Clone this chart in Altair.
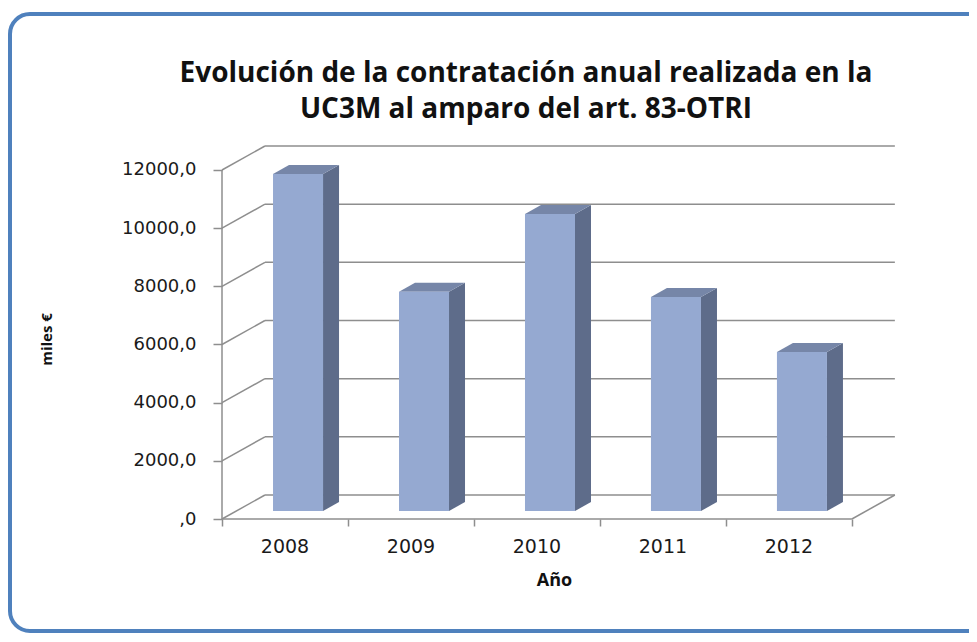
import altair as alt
import pandas as pd

# ---------------- data ----------------
years = ["2008", "2009", "2010", "2011", "2012"]
values = [11590, 7540, 10210, 7360, 5470]
y_ticks = [0, 2000, 4000, 6000, 8000, 10000, 12000]
title_lines = ["Evolución de la contratación anual realizada en la",
               "UC3M al amparo del art. 83-OTRI"]
y_title = "miles €"
x_title = "Año"

# ---------------- 3D projection / style constants ----------------
FL, FR = 0.405, 0.802      # front face left/right within a category (x units)
BASE = 275                 # bar base lift (y units) due to depth
SDX, SDY = 0.127, 309      # bar depth offset
DX, DY = 0.341, 825        # wall depth offset
N = len(years)
XMAX = 5.35
YMAX = 12825
W, H = 674, 373

FRONT = "#95A9D1"
TOP = "#7686A8"
SIDE = "#5E6C8A"
GRID = "#8E8E8E"

# ---------------- derived geometry tables ----------------
front_rows, side_rows, top_rows = [], [], []
for i, (yr, v) in enumerate(zip(years, values)):
    front_rows.append({"year": yr, "x": i + FL, "x2": i + FR, "y": BASE, "y2": v + BASE})
    side_rows.append({"year": yr, "x": i + FR, "ylo": BASE, "yhi": v + BASE})
    side_rows.append({"year": yr, "x": i + FR + SDX, "ylo": BASE + SDY, "yhi": v + BASE + SDY})
    top_rows.append({"year": yr, "y": v + BASE, "xl": i + FL, "xr": i + FR})
    top_rows.append({"year": yr, "y": v + BASE + SDY, "xl": i + FL + SDX, "xr": i + FR + SDX})

grid_rows = []
for t in y_ticks:
    grid_rows.append({"x": 0, "y": t, "x2": DX, "y2": t + DY})
    grid_rows.append({"x": DX, "y": t + DY, "x2": N + DX, "y2": t + DY})
grid_rows.append({"x": N, "y": 0, "x2": N + DX, "y2": DY})
grid_rows.append({"x": 0, "y": 0, "x2": N, "y2": 0})
grid_rows.append({"x": 0, "y": 0, "x2": 0, "y2": y_ticks[-1]})

label_rows = [{"year": yr, "x": i + 0.5, "y": 0} for i, yr in enumerate(years)]

front_df = pd.DataFrame(front_rows)
side_df = pd.DataFrame(side_rows)
top_df = pd.DataFrame(top_rows)
grid_df = pd.DataFrame(grid_rows)
label_df = pd.DataFrame(label_rows)

# ---------------- scales / axes ----------------
xscale = alt.Scale(domain=[0, XMAX], nice=False, zero=False)
yscale = alt.Scale(domain=[0, YMAX], nice=False, zero=False)

x_axis = alt.Axis(values=list(range(N + 1)), labels=False, domain=False, grid=False,
                  ticks=True, tickSize=7, tickColor=GRID, tickWidth=1.5,
                  title=x_title, titleFont="Open Sans", titleFontSize=18,
                  titleFontWeight="bold", titleColor="#111111",
                  titleX=332, titleY=66, titleBaseline="alphabetic",
                  titleAlign="center")
y_axis = alt.Axis(values=y_ticks, domain=False, grid=False, ticks=True, tickSize=9,
                  tickColor=GRID, tickWidth=1.5,
                  labelExpr="datum.value == 0 ? ',0' : datum.value + ',0'",
                  labelFont="DejaVu Sans", labelFontSize=18, labelColor="#1a1a1a",
                  labelPadding=17,
                  title=y_title, titleFont="Open Sans", titleFontSize=15,
                  titleFontWeight="bold", titleColor="#111111", titleAngle=-90,
                  titleX=-176, titleY=193, titleAlign="center", titleBaseline="middle")

def X(field):
    return alt.X(field, type="quantitative", scale=xscale, axis=x_axis)

def Y(field):
    return alt.Y(field, type="quantitative", scale=yscale, axis=y_axis)

# ---------------- layers ----------------
frame = alt.Chart(alt.Data(values=[{"k": 0}])).mark_rect(
    fillOpacity=0, stroke="#4F81BD", strokeWidth=4, cornerRadius=20
).encode(x=alt.value(-212), x2=alt.value(770), y=alt.value(-132), y2=alt.value(485))

grid = alt.Chart(grid_df).mark_rule(color=GRID, strokeWidth=1.5).encode(
    x=X("x"), x2="x2:Q", y=Y("y"), y2="y2:Q"
)

side = alt.Chart(side_df).mark_area(color=SIDE, opacity=1).encode(
    x=X("x"), y=Y("ylo"), y2="yhi:Q", detail="year:N"
)

top = alt.Chart(top_df).mark_area(color=TOP, opacity=1, orient="horizontal").encode(
    y=Y("y"), x=X("xl"), x2="xr:Q", detail="year:N"
)

front = alt.Chart(front_df).mark_rect(color=FRONT).encode(
    x=X("x"), x2="x2:Q", y=Y("y"), y2="y2:Q"
)

labels = alt.Chart(label_df).mark_text(
    font="DejaVu Sans", fontSize=19, color="#1a1a1a", dy=34, baseline="alphabetic"
).encode(x=X("x"), y=Y("y"), text="year:N")

chart = alt.layer(frame, grid, side, top, front, labels).properties(
    width=W, height=H,
    background="white",
    autosize=alt.AutoSizeParams(type="none"),
    padding={"left": 214, "top": 138, "right": 73, "bottom": 115},
    title=alt.TitleParams(text=title_lines, font="Open Sans", fontSize=28,
                          fontWeight="bold", color="#111111", anchor="middle",
                          dx=-33, dy=163, offset=23, lineHeight=36, baseline="bottom"),
).configure_view(stroke=None)

chart.save("out.html", embed_options={"renderer": "svg", "actions": False})
